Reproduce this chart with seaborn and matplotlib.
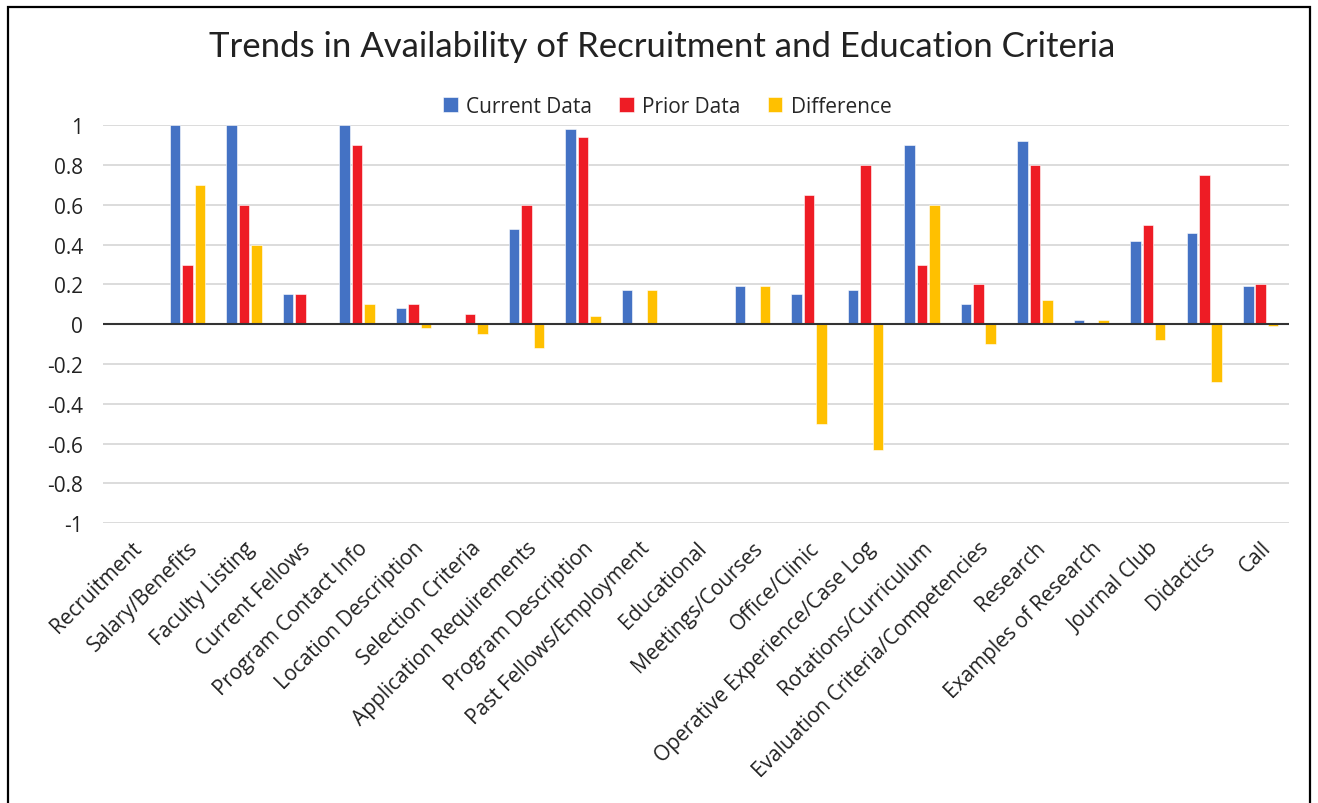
import pandas as pd
import matplotlib.pyplot as plt
import seaborn as sns
from matplotlib.patches import Rectangle

categories = ['Recruitment', 'Salary/Benefits', 'Faculty Listing', 'Current Fellows',
              'Program Contact Info', 'Location Description', 'Selection Criteria',
              'Application Requirements', 'Program Description', 'Past Fellows/Employment',
              'Educational', 'Meetings/Courses', 'Office/Clinic',
              'Operative Experience/Case Log', 'Rotations/Curriculum',
              'Evaluation Criteria/Competencies', 'Research', 'Examples of Research',
              'Journal Club', 'Didactics', 'Call']
current = [0, 1, 1, 0.15, 1, 0.08, 0, 0.48, 0.98, 0.17, 0, 0.19, 0.15, 0.17,
           0.9, 0.1, 0.92, 0.02, 0.42, 0.46, 0.19]
prior = [0, 0.3, 0.6, 0.15, 0.9, 0.1, 0.05, 0.6, 0.94, 0, 0, 0, 0.65, 0.8,
         0.3, 0.2, 0.8, 0, 0.5, 0.75, 0.2]
difference = [0, 0.7, 0.4, 0, 0.1, -0.02, -0.05, -0.12, 0.04, 0.17, 0, 0.19, -0.5, -0.63,
              0.6, -0.1, 0.12, 0.02, -0.08, -0.29, -0.01]
series = ['Current Data', 'Prior Data', 'Difference']
colors = ['#4472C4', '#EE1C25', '#FFC000']

df = pd.DataFrame({'category': categories * 3,
                   'series': [series[0]] * 21 + [series[1]] * 21 + [series[2]] * 21,
                   'value': current + prior + difference})

sns.set_style('white')
plt.rcParams['font.family'] = ['Open Sans', 'DejaVu Sans']

fig = plt.figure(figsize=(13.18, 8.04), dpi=100)
ax = fig.add_axes([0.078, 0.348, 0.9, 0.495])

sns.barplot(data=df, x='category', y='value', hue='series', palette=colors,
            saturation=1, width=0.66, gap=0.15, ax=ax, edgecolor='white', linewidth=0.4)

ax.set_ylim(-1, 1)
ax.set_xlim(-0.5, 20.5)
ax.set_yticks([1, 0.8, 0.6, 0.4, 0.2, 0, -0.2, -0.4, -0.6, -0.8, -1])
ax.set_yticklabels(['1', '0.8', '0.6', '0.4', '0.2', '0', '-0.2', '-0.4', '-0.6', '-0.8', '-1'])
ax.yaxis.grid(True, color='#d9d9d9', linewidth=1.3)
ax.set_axisbelow(True)
ax.axhline(0, color='#333333', linewidth=1.5, zorder=5)
for s in ax.spines.values():
    s.set_visible(False)
ax.tick_params(axis='y', length=0, pad=14, labelsize=15, labelcolor='#222222')
ax.tick_params(axis='x', length=0, pad=10, labelsize=15, labelcolor='#222222')
plt.setp(ax.get_xticklabels(), rotation=45, ha='right', rotation_mode='anchor')
ax.set_xlabel('')
ax.set_ylabel('')

ax.legend(loc='center', bbox_to_anchor=(0.476, 1.048), ncol=3, frameon=False,
          fontsize=15, handlelength=0.7, handleheight=0.7, columnspacing=1.3,
          handletextpad=0.4, borderaxespad=0)

fig.text(0.502, 0.942, 'Trends in Availability of Recruitment and Education Criteria',
         ha='center', va='center', fontsize=25, color='#222222', family=['Lato', 'DejaVu Sans'])

fig.patches.append(Rectangle((8 / 1318, -0.1), 1302 / 1318, 1.09, transform=fig.transFigure,
                             fill=False, edgecolor='black', linewidth=1.6))

fig.savefig('out.png', dpi=100)
